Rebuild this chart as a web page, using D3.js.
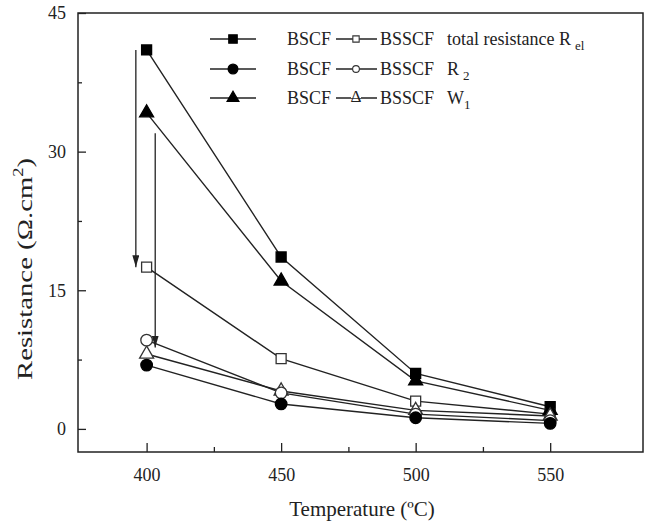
<!DOCTYPE html>
<html>
<head>
<meta charset="utf-8">
<script src="https://cdn.jsdelivr.net/npm/d3@7"></script>
<style>
    body { margin: 0; background: #fff; }
    svg, svg text { font-family: "Liberation Serif", "DejaVu Serif", serif; fill: #222; }
</style>
</head>
<body>
<div id="chart"></div>
<script>
// temperatures (x) and resistance values (y)
let temps = [400, 450, 500, 550];
let bscfTotal = [41.0, 18.6, 6.0, 2.4];
let bsscfTotal = [17.5, 7.6, 3.0, 1.6];
let bscfR2 = [6.9, 2.7, 1.2, 0.6];
let bsscfR2 = [9.6, 3.9, 1.6, 0.9];
let bscfW1 = [34.2, 16.0, 5.2, 2.0];
let bsscfW1 = [8.1, 4.1, 2.0, 1.4];

let xTicks = [400, 450, 500, 550];
let xMinor = [425, 475, 525];
let yTicks = [0, 15, 30, 45];
let yMinor = [7.5, 22.5, 37.5];

// arrows: [x, yFrom, yTo] in data units
let arrows = [[396, 41, 17.5], [403.2, 32, 8.8]];

let series = [
    { values: bscfTotal, shape: "square", filled: true },
    { values: bsscfTotal, shape: "square", filled: false },
    { values: bscfW1, shape: "triangle", filled: true },
    { values: bsscfW1, shape: "triangle", filled: false },
    { values: bsscfR2, shape: "circle", filled: false },
    { values: bscfR2, shape: "circle", filled: true }
];

let width = 647, height = 524;
let margin = { top: 13, right: 4, bottom: 72, left: 78 };
let w = width - margin.left - margin.right;
let h = height - margin.top - margin.bottom;
let ink = "#222";
let serif = "'Liberation Serif', 'DejaVu Serif', serif";

let svg = d3.select("#chart").append("svg")
    .attr("width", width)
    .attr("height", height)
    .style("font-family", serif);

let g = svg.append("g")
    .attr("transform", "translate(" + margin.left + "," + margin.top + ")");

let x = d3.scaleLinear().domain([374.5, 584.5]).range([0, w]);
let y = d3.scaleLinear().domain([-2.5, 45]).range([h, 0]);

// arrowhead
svg.append("defs").append("marker")
    .attr("id", "arrow")
    .attr("viewBox", "0 0 12 7")
    .attr("refX", 12).attr("refY", 3.5)
    .attr("markerWidth", 12).attr("markerHeight", 7)
    .attr("markerUnits", "userSpaceOnUse")
    .attr("orient", "auto")
    .append("path")
    .attr("d", "M0,0 L12,3.5 L0,7 Z")
    .attr("fill", ink);

// frame
g.append("rect")
    .attr("width", w).attr("height", h)
    .attr("fill", "none")
    .attr("stroke", ink)
    .attr("stroke-width", 1.5);

// axes with inward ticks
let xAxis = d3.axisBottom(x).tickValues(xTicks).tickSizeInner(-9).tickSizeOuter(0).tickPadding(16);
let xAxisMinor = d3.axisBottom(x).tickValues(xMinor).tickSizeInner(-5).tickSizeOuter(0).tickFormat("");
let yAxis = d3.axisLeft(y).tickValues(yTicks).tickSizeInner(-8).tickSizeOuter(0).tickPadding(12);
let yAxisMinor = d3.axisLeft(y).tickValues(yMinor).tickSizeInner(-4).tickSizeOuter(0).tickFormat("");

[
    g.append("g").attr("transform", "translate(0," + h + ")").call(xAxis),
    g.append("g").attr("transform", "translate(0," + h + ")").call(xAxisMinor),
    g.append("g").call(yAxis),
    g.append("g").call(yAxisMinor)
].forEach(a => {
    a.attr("font-family", null);
    a.select(".domain").remove();
    a.selectAll("line").attr("stroke", ink).attr("stroke-width", 1.3);
    a.selectAll("text").style("font-size", "18px").attr("fill", ink)
        .style("font-family", serif);
});

// axis titles
svg.append("text")
    .attr("x", 362)
    .attr("y", 516)
    .attr("text-anchor", "middle")
    .style("font-size", "21px")
    .style("font-family", serif)
    .text("Temperature (ºC)");

let yTitle = svg.append("text")
    .attr("transform", "translate(32,269) rotate(-90)")
    .attr("text-anchor", "middle")
    .attr("textLength", 222)
    .attr("lengthAdjust", "spacingAndGlyphs")
    .style("font-size", "22px")
    .style("font-family", serif);
yTitle.append("tspan").text("Resistance (Ω.cm");
yTitle.append("tspan").attr("dy", -9).style("font-size", "14px").text("2");
yTitle.append("tspan").attr("dy", 9).text(")");

// lines
let line = d3.line()
    .x((d, i) => x(temps[i]))
    .y(d => y(d));

g.selectAll(".series-line")
    .data(series)
    .enter().append("path")
    .attr("class", "series-line")
    .attr("d", d => line(d.values))
    .attr("fill", "none")
    .attr("stroke", ink)
    .attr("stroke-width", 1.4);

// arrows
g.selectAll(".arrow")
    .data(arrows)
    .enter().append("line")
    .attr("class", "arrow")
    .attr("x1", d => x(d[0])).attr("x2", d => x(d[0]))
    .attr("y1", d => y(d[1])).attr("y2", d => y(d[2]))
    .attr("stroke", ink)
    .attr("stroke-width", 1.3)
    .attr("marker-end", "url(#arrow)");

// marker symbols
let symbolTypes = { square: d3.symbolSquare, circle: d3.symbolCircle, triangle: d3.symbolTriangle };
let symbolSizes = { square: 100, circle: 105, triangle: 85 };

function drawSymbol(sel, s, scale = 1) {
    sel.attr("d", d3.symbol().type(symbolTypes[s.shape]).size(symbolSizes[s.shape] * scale)())
        .attr("fill", s.filled ? "#000" : "#fff")
        .attr("stroke", s.filled ? "#000" : "#333")
        .attr("stroke-width", 1.3);
}

series.forEach(s => {
    g.selectAll(null)
        .data(s.values)
        .enter().append("path")
        .attr("transform", (d, i) => "translate(" + x(temps[i]) + "," + y(d) + ")")
        .call(sel => drawSymbol(sel, s));
});

// legend
let legendRows = [
    { shape: "square", label: "total resistance R", sub: "el" },
    { shape: "circle", label: "R", sub: "2" },
    { shape: "triangle", label: "W", sub: "1" }
];
let legendY = [39, 69, 98];

let legend = svg.append("g").attr("class", "legend");

legendRows.forEach((r, i) => {
    let ly = legendY[i];
    let row = legend.append("g").attr("transform", "translate(0," + ly + ")");

    // filled sample
    row.append("line").attr("x1", 210).attr("x2", 256).attr("stroke", ink).attr("stroke-width", 1.4);
    row.append("path").attr("transform", "translate(233,0)")
        .call(sel => drawSymbol(sel, { shape: r.shape, filled: true }, 0.7));
    row.append("text").attr("x", 287).attr("y", 6).style("font-size", "18px").text("BSCF");

    // open sample
    row.append("line").attr("x1", 336).attr("x2", 377).attr("stroke", ink).attr("stroke-width", 1.4);
    if (r.shape === "triangle") {
        row.append("rect").attr("x", 351).attr("y", -10).attr("width", 10).attr("height", 10).attr("fill", "#fff");
        row.append("text").attr("x", 356).attr("y", 4).attr("text-anchor", "middle")
            .style("font-size", "17px").text("Δ");
    } else {
        let small = { square: 40, circle: 36 };
        row.append("path").attr("transform", "translate(356,0)")
            .attr("d", d3.symbol().type(symbolTypes[r.shape]).size(small[r.shape])())
            .attr("fill", "#fff").attr("stroke", "#333").attr("stroke-width", 1.1);
    }
    row.append("text").attr("x", 380).attr("y", 6).style("font-size", "18px").text("BSSCF");

    let t = row.append("text").attr("x", 447).attr("y", 6).style("font-size", "18px");
    t.append("tspan").text(r.label);
    t.append("tspan").attr("dx", r.sub === "1" ? 0 : 4).attr("dy", 5).style("font-size", "13px").text(r.sub);
});
</script>
</body>
</html>
